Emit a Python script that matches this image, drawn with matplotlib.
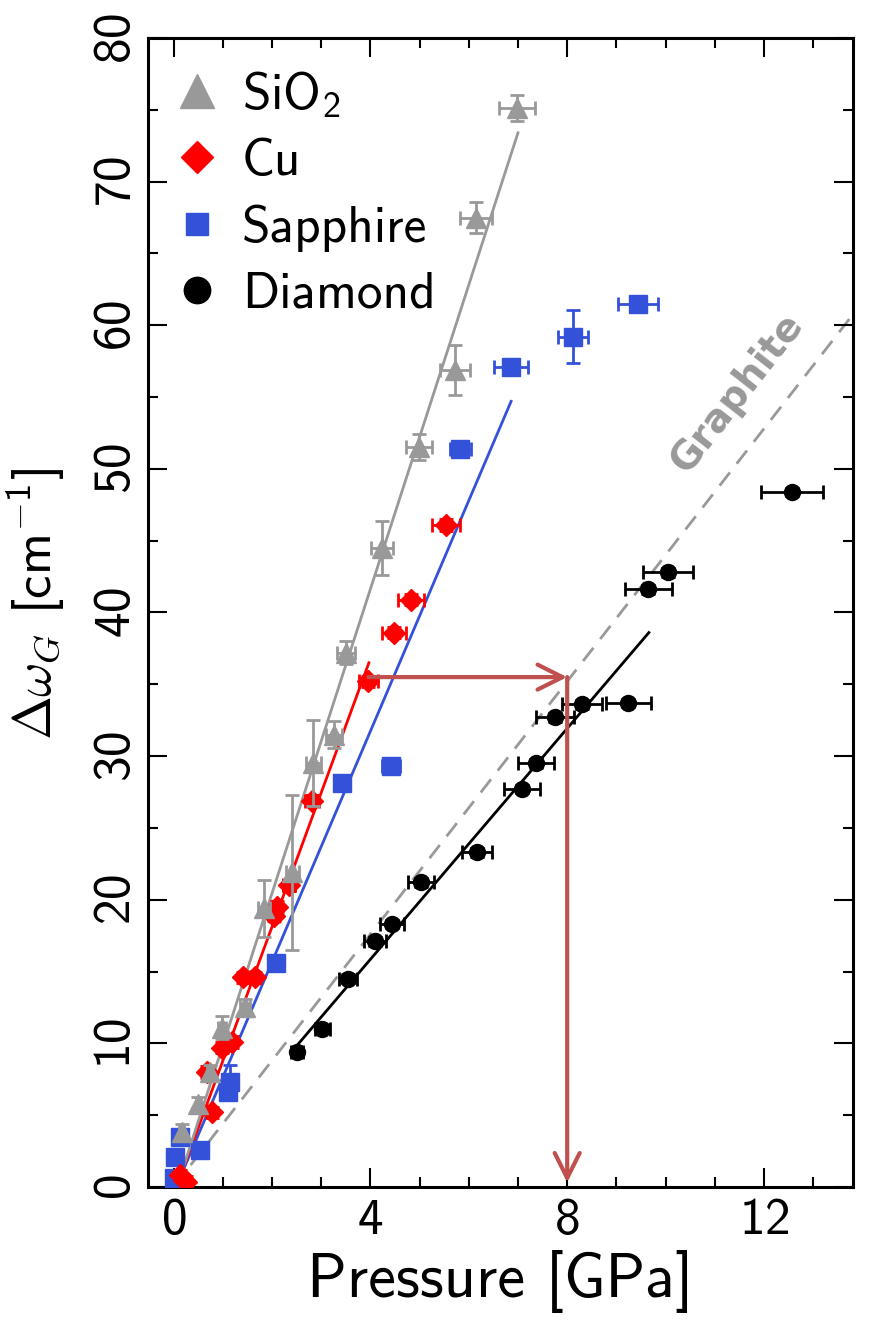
import matplotlib
matplotlib.use("Agg")
import matplotlib.pyplot as plt
from matplotlib.lines import Line2D
from matplotlib.ticker import MultipleLocator

# fonts ---------------------------------------------
plt.rcParams['font.family'] = ['cmss10', 'DejaVu Sans']
plt.rcParams['mathtext.fontset'] = 'custom'
plt.rcParams['mathtext.rm'] = 'cmss10'
plt.rcParams['mathtext.it'] = 'cmmi10'
plt.rcParams['mathtext.sf'] = 'cmss10'
plt.rcParams['mathtext.fallback'] = 'cm'
plt.rcParams['axes.formatter.use_mathtext'] = True
plt.rcParams['axes.unicode_minus'] = False

# data -----------------------------------------------
sio2_p = [0.17, 0.50, 0.74, 0.99, 1.45, 1.84, 2.41, 2.84, 3.26, 3.51, 4.24, 4.99, 5.72, 6.15, 6.98]
sio2_w = [3.8, 5.8, 8.0, 11.1, 12.5, 19.4, 21.9, 29.5, 31.5, 37.2, 44.5, 51.5, 56.9, 67.5, 75.1]
sio2_pe = [0.05, 0.05, 0.06, 0.08, 0.10, 0.12, 0.13, 0.15, 0.17, 0.18, 0.22, 0.26, 0.30, 0.32, 0.37]
sio2_we = [0.6, 0.5, 0.5, 0.8, 0.6, 2.0, 5.4, 3.0, 0.95, 0.8, 1.9, 0.9, 1.75, 1.1, 0.9]

cu_p = [0.13, 0.26, 0.68, 0.78, 0.98, 1.18, 1.42, 1.65, 2.05, 2.10, 2.35, 2.82, 3.96, 4.48, 4.83, 5.54]
cu_w = [0.8, 0.35, 8.0, 5.2, 9.7, 10.1, 14.6, 14.6, 18.9, 19.5, 21.0, 26.9, 35.2, 38.6, 40.9, 46.1]
cu_pe = [0.03, 0.03, 0.05, 0.05, 0.06, 0.07, 0.08, 0.09, 0.10, 0.11, 0.12, 0.14, 0.20, 0.24, 0.26, 0.28]
cu_we = [0.4] * len(cu_p)

sap_p = [0.0, 0.03, 0.13, 0.54, 1.11, 1.15, 2.09, 3.42, 4.42, 5.83, 6.86, 8.12, 9.44]
sap_w = [0.6, 2.1, 3.5, 2.6, 6.6, 7.3, 15.6, 28.1, 29.3, 51.4, 57.1, 59.2, 61.5]
sap_pe = [0.02, 0.02, 0.03, 0.05, 0.07, 0.07, 0.10, 0.15, 0.18, 0.22, 0.35, 0.30, 0.41]
sap_we = [0.3, 0.3, 0.3, 0.3, 0.5, 1.2, 0.4, 0.4, 0.4, 0.4, 0.5, 1.85, 0.4]

dia_p = [2.51, 3.02, 3.55, 4.10, 4.44, 5.03, 6.17, 7.08, 7.37, 7.75, 8.30, 9.24, 9.65, 10.05, 12.57]
dia_w = [9.4, 11.0, 14.5, 17.1, 18.3, 21.2, 23.3, 27.7, 29.5, 32.7, 33.6, 33.7, 41.6, 42.8, 48.4]
dia_pe = [0.12, 0.15, 0.18, 0.22, 0.25, 0.27, 0.31, 0.36, 0.37, 0.39, 0.40, 0.46, 0.47, 0.50, 0.63]
dia_we = [0.3] * len(dia_p)

# fitted lines (end points)
sio2_fit_p, sio2_fit_w = [0.07, 7.0], [0.0, 73.4]
cu_fit_p, cu_fit_w = [0.06, 3.97], [0.0, 36.5]
sap_fit_p, sap_fit_w = [0.05, 6.86], [0.0, 54.7]
dia_fit_p, dia_fit_w = [2.47, 9.66], [9.7, 38.6]
graphite_p, graphite_w = [0.0, 14.0], [0.0, 61.6]

# arrow: Cu point -> graphite line -> pressure axis
arrow_start_p = 3.96
arrow_p = 8.0
arrow_w = 35.5

C_GRAY = '#999999'
C_RED = '#ff0000'
C_BLUE = '#3352d9'
C_BLACK = '#000000'
C_ARROW = '#c0504d'

# ----------------------------------------------------
fig = plt.figure(figsize=(8.84, 13.37), dpi=100)
ax = fig.add_axes([0.1674, 0.1122, 0.7976, 0.8594])

eb = dict(linestyle='none', capsize=5, elinewidth=2, capthick=2)

ax.plot(graphite_p, graphite_w, color=C_GRAY, lw=2, dashes=(6, 4), zorder=1)
ax.plot(dia_fit_p, dia_fit_w, color=C_BLACK, lw=2, zorder=1)
ax.plot(sap_fit_p, sap_fit_w, color=C_BLUE, lw=2, zorder=1)
ax.plot(cu_fit_p, cu_fit_w, color=C_RED, lw=2, zorder=1)
ax.plot(sio2_fit_p, sio2_fit_w, color=C_GRAY, lw=2, zorder=1)

ax.errorbar(dia_p, dia_w, xerr=dia_pe, yerr=dia_we, marker='o', ms=11.5,
            color=C_BLACK, zorder=3, **eb)
ax.errorbar(sap_p, sap_w, xerr=sap_pe, yerr=sap_we, marker='s', ms=12.5,
            color=C_BLUE, zorder=3, **eb)
ax.errorbar(cu_p, cu_w, xerr=cu_pe, yerr=cu_we, marker='D', ms=11,
            color=C_RED, zorder=4, **eb)
ax.errorbar(sio2_p, sio2_w, xerr=sio2_pe, yerr=sio2_we, marker='^', ms=15,
            color=C_GRAY, zorder=5, **eb)

# arrows
ax.annotate('', xy=(arrow_p, arrow_w), xytext=(arrow_start_p, arrow_w),
            arrowprops=dict(arrowstyle='->,head_length=0.9,head_width=0.45',
                            color=C_ARROW, lw=3, shrinkA=0, shrinkB=0,
                            mutation_scale=20), zorder=6)
ax.annotate('', xy=(arrow_p, 0.3), xytext=(arrow_p, arrow_w),
            arrowprops=dict(arrowstyle='->,head_length=0.9,head_width=0.45',
                            color=C_ARROW, lw=3, shrinkA=0, shrinkB=0,
                            mutation_scale=20), zorder=6)

ax.text(11.45, 55.3, 'Graphite', rotation=52, color=C_GRAY, fontsize=28,
        fontweight='bold', family='DejaVu Sans', ha='center', va='center')

# axes -----------------------------------------------
ax.set_xlim(-0.52, 13.81)
ax.set_ylim(0, 80)
ax.xaxis.set_major_locator(MultipleLocator(4))
ax.xaxis.set_minor_locator(MultipleLocator(1))
ax.yaxis.set_major_locator(MultipleLocator(10))
ax.yaxis.set_minor_locator(MultipleLocator(5))
ax.tick_params(which='both', direction='in', top=True, right=True, width=1.5)
ax.tick_params(which='major', length=14, labelsize=37)
ax.tick_params(which='minor', length=7)
ax.tick_params(axis='x', pad=8)
ax.tick_params(axis='y', pad=6)
for lab in ax.get_yticklabels():
    lab.set_rotation(90)
    lab.set_va('center')
for s in ax.spines.values():
    s.set_linewidth(2.2)

ax.set_xlabel('Pressure [GPa]', fontsize=45, labelpad=4)
ax.set_ylabel(r'$\Delta\omega_G$ [cm$^{-1}$]', fontsize=38)
ax.yaxis.set_label_coords(-0.115, 0.507)

handles = [
    Line2D([], [], ls='none', marker='^', ms=24, color=C_GRAY),
    Line2D([], [], ls='none', marker='D', ms=16, color=C_RED),
    Line2D([], [], ls='none', marker='s', ms=16, color=C_BLUE),
    Line2D([], [], ls='none', marker='o', ms=19, color=C_BLACK),
]
labels = [r'SiO$_2$', 'Cu', 'Sapphire', 'Diamond']
ax.legend(handles, labels, loc='upper left', bbox_to_anchor=(0.0, 0.993),
          frameon=False, fontsize=37, handletextpad=0.38, labelspacing=0.38,
          borderaxespad=0.05, handlelength=1.0)

fig.savefig('out.png', dpi=100)
